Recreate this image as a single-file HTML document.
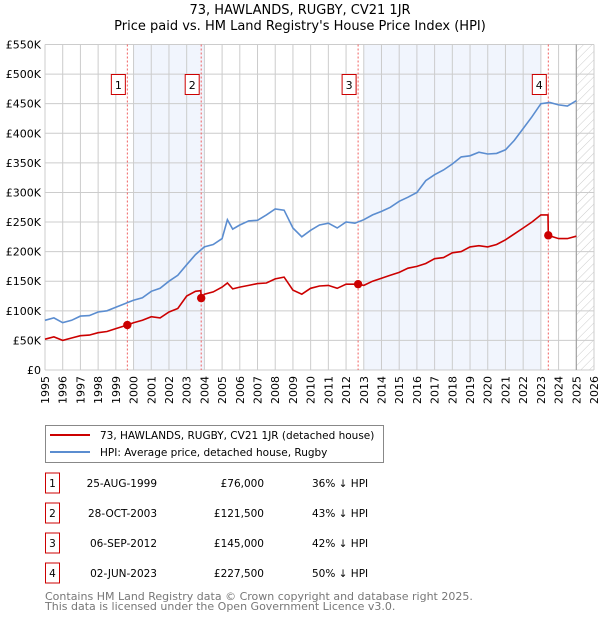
<!DOCTYPE html>
<html><head><meta charset="utf-8"><style>
body{margin:0;background:#fff;font-family:"DejaVu Sans","Liberation Sans",sans-serif;}
svg text{font-family:"DejaVu Sans","Liberation Sans",sans-serif;}
</style></head><body>
<svg id="chart" width="600" height="620" xmlns="http://www.w3.org/2000/svg">
<text x="300" y="14" text-anchor="middle" font-size="13" fill="#000">73, HAWLANDS, RUGBY, CV21 1JR</text>
<text x="300" y="30" text-anchor="middle" font-size="13" fill="#000">Price paid vs. HM Land Registry's House Price Index (HPI)</text>
<g id="plot"></g>
<g>
<rect x="45.5" y="425.5" width="338" height="37" fill="#fff" stroke="#888"/>
<line x1="50" y1="435" x2="90" y2="435" stroke="#cc0000" stroke-width="2"/>
<text x="100" y="439" font-size="10.5">73, HAWLANDS, RUGBY, CV21 1JR (detached house)</text>
<line x1="50" y1="452" x2="90" y2="452" stroke="#5b8dd0" stroke-width="2"/>
<text x="100" y="456" font-size="10.5">HPI: Average price, detached house, Rugby</text>
</g>
<g id="table"></g>
<text x="45" y="600" font-size="11" fill="#777">Contains HM Land Registry data © Crown copyright and database right 2025.</text>
<text x="45" y="610" font-size="11" fill="#777">This data is licensed under the Open Government Licence v3.0.</text>
</svg>
<script>
const hpiYears=[1995,1995.5,1996,1996.5,1997,1997.5,1998,1998.5,1999,1999.5,2000,2000.5,2001,2001.5,2002,2002.5,2003,2003.5,2004,2004.5,2005,2005.3,2005.6,2006,2006.5,2007,2007.5,2008,2008.5,2009,2009.5,2010,2010.5,2011,2011.5,2012,2012.5,2013,2013.5,2014,2014.5,2015,2015.5,2016,2016.5,2017,2017.5,2018,2018.5,2019,2019.5,2020,2020.5,2021,2021.5,2022,2022.5,2023,2023.5,2024,2024.5,2025];
const hpiValues=[84,88,80,84,91,92,98,100,106,112,118,122,133,138,150,160,178,195,208,212,222,254,238,245,252,253,262,272,270,240,225,236,245,248,240,250,248,254,262,268,275,285,292,300,320,330,338,348,360,362,368,365,366,372,388,408,428,450,452,448,446,455];
const ppYears=[1995,1995.5,1996,1996.5,1997,1997.5,1998,1998.5,1999,1999.65,2000,2000.5,2001,2001.5,2002,2002.5,2003,2003.5,2003.8,2003.82,2004,2004.5,2005,2005.3,2005.6,2006,2006.5,2007,2007.5,2008,2008.5,2009,2009.5,2010,2010.5,2011,2011.5,2012,2012.68,2013,2013.5,2014,2014.5,2015,2015.5,2016,2016.5,2017,2017.5,2018,2018.5,2019,2019.5,2020,2020.5,2021,2021.5,2022,2022.5,2023,2023.4,2023.42,2024,2024.5,2025];
const ppValues=[52,56,50,54,58,59,63,65,70,76,80,84,90,88,98,104,125,133,134,121.5,128,132,140,147,137,140,143,146,147,154,157,135,128,138,142,143,138,145,145,143,150,155,160,165,172,175,180,188,190,198,200,208,210,208,212,220,230,240,250,262,262,227.5,222,222,226];
const saleYears=[1999.65,2003.82,2012.68,2023.42];
const saleValues=[76,121.5,145,227.5];
const saleLabels=["1","2","3","4"];
const saleDates=["25-AUG-1999","28-OCT-2003","06-SEP-2012","02-JUN-2023"];
const salePrices=["£76,000","£121,500","£145,000","£227,500"];
const salePcts=["36% ↓ HPI","43% ↓ HPI","42% ↓ HPI","50% ↓ HPI"];
const yTicks=[0,50,100,150,200,250,300,350,400,450,500,550];
const yTickLabels=["£0","£50K","£100K","£150K","£200K","£250K","£300K","£350K","£400K","£450K","£500K","£550K"];
const xTicks=[1995,1996,1997,1998,1999,2000,2001,2002,2003,2004,2005,2006,2007,2008,2009,2010,2011,2012,2013,2014,2015,2016,2017,2018,2019,2020,2021,2022,2023,2024,2025,2026];
const shadeRanges=[[2000,2004],[2013,2023]];
const NS="http://www.w3.org/2000/svg";
const X0=45,X1=594,Y0=370,Y1=44.5;
const xs=y=>X0+(y-1995)*(X1-X0)/31;
const ys=v=>Y0-v*(Y0-Y1)/550;
const plot=document.getElementById('plot');
function mk(tag,attrs,parent){const e=document.createElementNS(NS,tag);for(const k in attrs)e.setAttribute(k,attrs[k]);(parent||plot).appendChild(e);return e;}
shadeRanges.forEach(r=>{const e=mk('rect',{x:xs(r[0]),y:Y1,width:xs(r[1])-xs(r[0]),height:Y0-Y1,fill:'#eef3fc',opacity:0.8});

});
const defs=mk('defs',{});
const pat=mk('pattern',{id:'hatch',width:6,height:6,patternUnits:'userSpaceOnUse',patternTransform:'rotate(45)'},defs);
mk('line',{x1:0,y1:0,x2:0,y2:6,stroke:'#ccc','stroke-width':1},pat);
const h=mk('rect',{x:xs(2025),y:Y1,width:X1-xs(2025),height:Y0-Y1,fill:'url(#hatch)'});


xTicks.forEach((t,i)=>{const l=mk('line',{x1:xs(t),y1:Y1,x2:xs(t),y2:Y0,stroke:'#ccc','stroke-width':1});


const tx=mk('text',{x:0,y:0,transform:`translate(${xs(t)+4},${Y0+6}) rotate(-90)`,'text-anchor':'end','font-size':11});
tx.textContent=t;

});
yTicks.forEach((t,i)=>{const l=mk('line',{x1:X0,y1:ys(t),x2:X1,y2:ys(t),stroke:'#ccc','stroke-width':1});


const tx=mk('text',{x:X0-4,y:ys(t)+4,'text-anchor':'end','font-size':11});
tx.textContent=yTickLabels[i];

});
mk('line',{x1:xs(2025),y1:Y1,x2:xs(2025),y2:Y0,stroke:'#999','stroke-width':1});
saleYears.forEach((y,i)=>{const l=mk('line',{x1:xs(y),y1:Y1,x2:xs(y),y2:Y0,stroke:'#f06060','stroke-width':1,'stroke-dasharray':'2,2'});


const g=mk('g',{});


mk('rect',{x:xs(y)-16,y:74.5,width:14,height:20,fill:'#fff',stroke:'#cc0000'},g);
const t=mk('text',{x:xs(y)-9,y:89,'text-anchor':'middle','font-size':11},g);t.textContent=saleLabels[i];});
function path(xa,va,color,name){const d=xa.map((x,i)=>(i?'L':'M')+xs(x).toFixed(1)+','+ys(va[i]).toFixed(1)).join('');
const p=mk('path',{d,fill:'none',stroke:color,'stroke-width':1.6});

}
path(hpiYears,hpiValues,'#5b8dd0','hpi-line');
path(ppYears,ppValues,'#cc0000','price-paid-line');
saleYears.forEach((y,i)=>{const c=mk('circle',{cx:xs(y),cy:ys(saleValues[i]),r:4.2,fill:'#cc0000'});

});
const tb=document.getElementById('table');
saleLabels.forEach((l,i)=>{const cy=483+i*30;
const g=mk('g',{},tb);


mk('rect',{x:45.5,y:cy-10,width:14,height:20,fill:'#fff',stroke:'#cc0000'},g);
const a=mk('text',{x:52.5,y:cy+4,'text-anchor':'middle','font-size':10.5},g);a.textContent=l;
const b=mk('text',{x:157,y:cy+4,'text-anchor':'end','font-size':10.5},g);b.textContent=saleDates[i];
const c=mk('text',{x:264,y:cy+4,'text-anchor':'end','font-size':10.5},g);c.textContent=salePrices[i];
const d=mk('text',{x:312,y:cy+4,'font-size':10.5},g);d.textContent=salePcts[i];});
</script>
</body></html>
